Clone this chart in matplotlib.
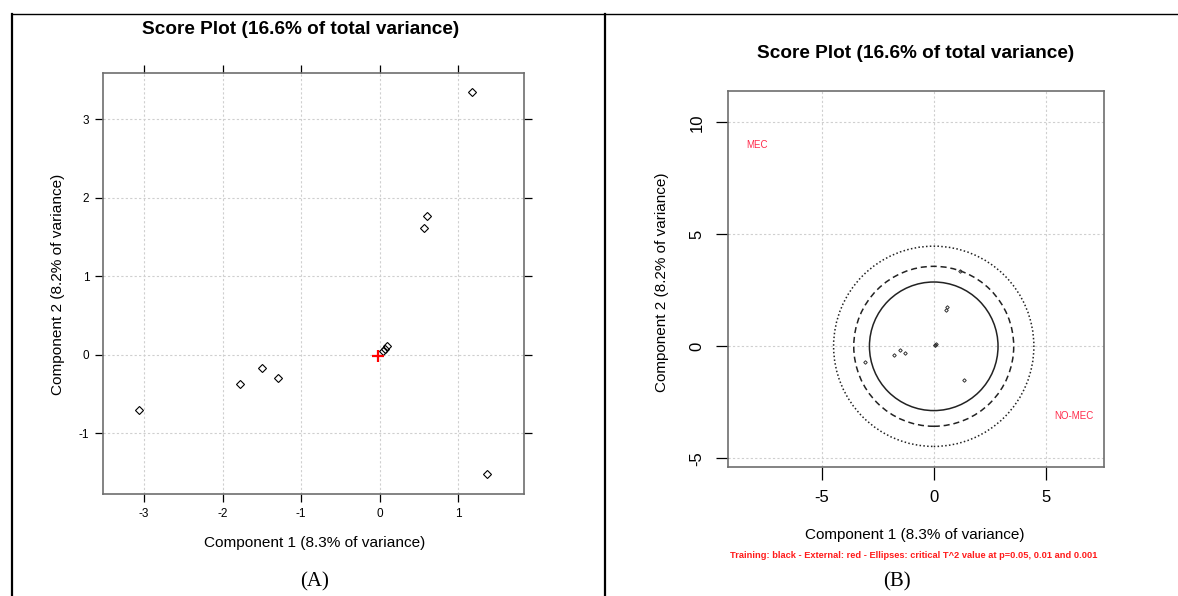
import matplotlib
matplotlib.use('Agg')
import matplotlib.pyplot as plt
from matplotlib.lines import Line2D
from matplotlib.patches import Ellipse

# ---- data ----
pc1 = [1.18, 0.61, 0.56, -1.50, -1.29, -1.78, -3.07, 1.37, 0.04, 0.07, 0.10]
pc2 = [3.35, 1.77, 1.61, -0.17, -0.29, -0.37, -0.70, -1.52, 0.05, 0.08, 0.11]
ext_pc1 = [-0.02]
ext_pc2 = [-0.01]
xticks_a = [-3, -2, -1, 0, 1]
yticks_a = [-1, 0, 1, 2, 3]
xticks_b = [-5, 0, 5]
yticks_b = [-5, 0, 5, 10]
ellipse_radii = [2.87, 3.57, 4.47]
ellipse_styles = ['-', (0, (4, 2.5)), (0, (1, 1.5))]
class_labels = ['MEC', 'NO-MEC']
class_x = [-8.35, 5.37]
class_y = [9.0, -3.1]

title = 'Score Plot (16.6% of total variance)'
xlab = 'Component 1 (8.3% of variance)'
ylab = 'Component 2 (8.2% of variance)'
note = 'Training: black - External: red - Ellipses: critical T^2 value at p=0.05, 0.01 and 0.001'

W, H = 1178, 596
plt.rcParams['font.family'] = ['Liberation Sans', 'DejaVu Sans']
plt.rcParams['axes.unicode_minus'] = False
fig = plt.figure(figsize=(W / 100, H / 100), dpi=100)

def fx(px):
    return px / W

def fy(py):
    return 1 - py / H

BOX = '#6e6e6e'
GRID = '#cfcfcf'

# ---- panel A (lattice style) ----
axA = fig.add_axes([fx(103.3), fy(494), fx(524) - fx(103.3), fy(73.3) - fy(494)])
axA.set_xlim(-3.52, 1.84)
axA.set_ylim(-1.773, 3.586)
axA.set_xticks(xticks_a)
axA.set_yticks(yticks_a)
axA.grid(True, color=GRID, linestyle=(0, (2, 2)), linewidth=0.8)
axA.set_axisbelow(True)
for s in axA.spines.values():
    s.set_color(BOX)
    s.set_linewidth(1.2)
axA.tick_params(direction='out', length=6, width=0.9, top=True, right=True,
                labeltop=False, labelright=False, labelsize=8.5, pad=4)
axA.plot(pc1, pc2, linestyle='none', marker='D', markersize=3.6,
         markerfacecolor='none', markeredgecolor='black', markeredgewidth=0.8)
axA.plot(ext_pc1, ext_pc2, linestyle='none', marker='+', markersize=8,
         color='red', markeredgewidth=1.6)
fig.text(fx(301), fy(29), title, ha='center', va='center', fontsize=13.7, fontweight='bold')
fig.text(fx(315), fy(543), xlab, ha='center', va='center', fontsize=11.1)
fig.text(fx(58), fy(284), ylab, ha='center', va='center', fontsize=11.1, rotation=90)

# ---- panel B (base graphics style) ----
axB = fig.add_axes([fx(728.3), fy(466.7), fx(1104) - fx(728.3), fy(90.7) - fy(466.7)])
axB.set_xlim(-9.17, 7.60)
axB.set_ylim(-5.375, 11.41)
axB.set_xticks(xticks_b)
axB.set_yticks(yticks_b)
axB.grid(True, color=GRID, linestyle=(0, (2, 2)), linewidth=0.8)
axB.set_axisbelow(True)
for s in axB.spines.values():
    s.set_color(BOX)
    s.set_linewidth(1.2)
axB.tick_params(direction='out', length=9, width=0.9, labelsize=12, pad=8)
for lab in axB.get_yticklabels():
    lab.set_rotation(90)
    lab.set_va('center')
for r, ls in zip(ellipse_radii, ellipse_styles):
    axB.add_patch(Ellipse((0, 0), 2 * r, 2 * r, fill=False, edgecolor='#222222',
                          linestyle=ls, linewidth=1.1))
axB.plot(pc1, pc2, linestyle='none', marker='D', markersize=1.8,
         markerfacecolor='none', markeredgecolor='#333333', markeredgewidth=0.7)
for t, x, y in zip(class_labels, class_x, class_y):
    axB.text(x, y, t, color='#ff2a4a', fontsize=7, ha='left', va='center')
fig.text(fx(916), fy(53), title, ha='center', va='center', fontsize=13.7, fontweight='bold')
fig.text(fx(915), fy(535), xlab, ha='center', va='center', fontsize=11)
fig.text(fx(662), fy(282), ylab, ha='center', va='center', fontsize=11, rotation=90)
fig.text(fx(914), fy(556), note, ha='center', va='center', fontsize=6.65,
         fontweight='bold', color='#ff1a1a')

# ---- panel captions ----
fig.text(fx(315), fy(582), '(A)', ha='center', va='center', fontsize=15,
         family='Liberation Serif')
fig.text(fx(897), fy(582), '(B)', ha='center', va='center', fontsize=15,
         family='Liberation Serif')

# ---- table borders ----
def line(x0, y0, x1, y1, lw):
    fig.add_artist(Line2D([fx(x0), fx(x1)], [fy(y0), fy(y1)], color='black', linewidth=lw))

line(12, 14, 1178, 14, 1.0)
line(12, 14, 12, 596, 1.6)
line(605, 14, 605, 596, 1.6)

fig.savefig('out.png', dpi=100)
